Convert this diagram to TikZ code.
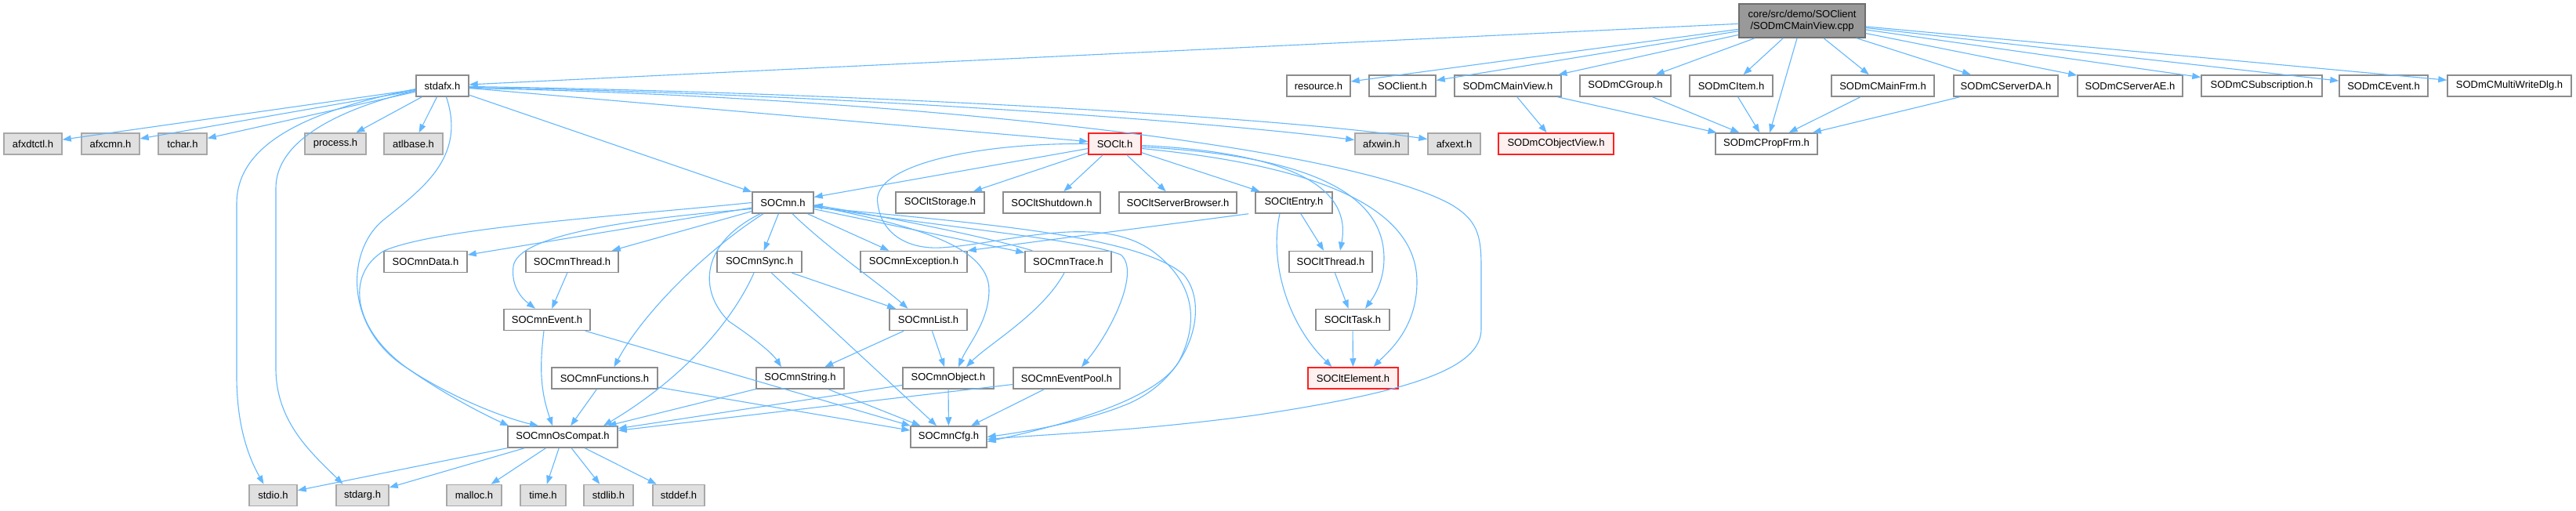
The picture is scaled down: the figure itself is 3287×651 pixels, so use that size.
\documentclass[tikz,border=0pt]{standalone}
\usepackage{fontspec}
\setmainfont{Liberation Sans}
\usetikzlibrary{arrows.meta}
\definecolor{edgeblue}{HTML}{63B8FF}
\definecolor{bgray}{HTML}{8C8C8C}
\definecolor{extfill}{HTML}{E0E0E0}
\definecolor{extborder}{HTML}{A8A8A8}
\definecolor{mainfill}{HTML}{999999}
\definecolor{mainborder}{HTML}{6E6E6E}
\definecolor{redfill}{HTML}{FFF0F0}
\definecolor{redborder}{HTML}{FF2020}
\begin{document}
\begin{tikzpicture}[x=1pt,y=-1pt,
  box/.style={draw=bgray, line width=1.5pt, fill=white, minimum height=27, inner sep=0pt,
    font=\fontsize{13}{15}\selectfont},
  ext/.style={box, draw=extborder, fill=extfill},
  red/.style={box, draw=redborder, fill=redfill},
  edge/.style={draw=edgeblue, line width=1.1pt, -{Triangle[length=11pt,width=8pt]}}]
\useasboundingbox (0,0) rectangle (3287,651);
\fill[white] (0,0) rectangle (3287,651);
% ---- nodes
\node[box, draw=mainborder, fill=mainfill, minimum width=161, minimum height=43, align=center] (main) at (2299.5,26.5) {core/src/demo/SOClient\\/SODmCMainView.cpp};
% row 1
\node[box, minimum width=67] (stdafx) at (564.5,109.5) {stdafx.h};
\node[box, minimum width=81] (resource) at (1682.5,109.5) {resource.h};
\node[box, minimum width=85] (soclient) at (1789.5,109.5) {SOClient.h};
\node[box, minimum width=136] (mainview) at (1924,109.5) {SODmCMainView.h};
\node[box, minimum width=116] (group) at (2074,109.5) {SODmCGroup.h};
\node[box, minimum width=106] (item) at (2209,109.5) {SODmCItem.h};
\node[box, minimum width=131] (mainfrm) at (2402.5,109.5) {SODmCMainFrm.h};
\node[box, minimum width=133] (serverda) at (2559.5,109.5) {SODmCServerDA.h};
\node[box, minimum width=134] (serverae) at (2718,109.5) {SODmCServerAE.h};
\node[box, minimum width=154] (subscr) at (2886,109.5) {SODmCSubscription.h};
\node[box, minimum width=113] (dmevent) at (3041.5,109.5) {SODmCEvent.h};
\node[box, minimum width=158] (multi) at (3202,109.5) {SODmCMultiWriteDlg.h};
% row 2
\node[ext, minimum width=74] (afxdtctl) at (42,183.5) {afxdtctl.h};
\node[ext, minimum width=74] (afxcmn) at (141,183.5) {afxcmn.h};
\node[ext, minimum width=62] (tchar) at (233,183.5) {tchar.h};
\node[ext, minimum width=78] (process) at (428,183.5) {process.h};
\node[ext, minimum width=75] (atlbase) at (527.5,183.5) {atlbase.h};
\node[red, minimum width=67] (soclt) at (1422.5,183.5) {SOClt.h};
\node[ext, minimum width=68] (afxwin) at (1763,183.5) {afxwin.h};
\node[ext, minimum width=67] (afxext) at (1855.5,183.5) {afxext.h};
\node[red, minimum width=147] (objview) at (1985.5,183.5) {SODmCObjectView.h};
\node[box, minimum width=130] (propfrm) at (2254,183.5) {SODmCPropFrm.h};
% row 3
\node[box, minimum width=78] (socmn) at (999,258.5) {SOCmn.h};
\node[box, minimum width=113] (storage) at (1199.5,258.5) {SOCltStorage.h};
\node[box, minimum width=124] (shutdown) at (1342,258.5) {SOCltShutdown.h};
\node[box, minimum width=150] (browser) at (1503,258.5) {SOCltServerBrowser.h};
\node[box, minimum width=98] (entry) at (1651,258.5) {SOCltEntry.h};
% row 4
\node[box, minimum width=106] (data) at (543,334) {SOCmnData.h};
\node[box, minimum width=118] (thread) at (730,334) {SOCmnThread.h};
\node[box, minimum width=108] (sync) at (969,334) {SOCmnSync.h};
\node[box, minimum width=136] (exception) at (1166,334) {SOCmnException.h};
\node[box, minimum width=110] (trace) at (1363,334) {SOCmnTrace.h};
\node[box, minimum width=106] (cltthread) at (1698,334) {SOCltThread.h};
% row 5
\node[box, minimum width=110] (event) at (698,408) {SOCmnEvent.h};
\node[box, minimum width=99] (list) at (1184.5,408) {SOCmnList.h};
\node[box, minimum width=94] (task) at (1726,408) {SOCltTask.h};
% row 6
\node[box, minimum width=135] (functions) at (771.5,482.5) {SOCmnFunctions.h};
\node[box, minimum width=112] (string) at (1021,482.5) {SOCmnString.h};
\node[box, minimum width=116] (object) at (1210,482.5) {SOCmnObject.h};
\node[box, minimum width=136] (eventpool) at (1361,482.5) {SOCmnEventPool.h};
\node[red, minimum width=115] (element) at (1726.5,482.5) {SOCltElement.h};
% row 7
\node[box, minimum width=140] (oscompat) at (718,557.5) {SOCmnOsCompat.h};
\node[box, minimum width=97] (cfg) at (1210.5,557.5) {SOCmnCfg.h};
% row 8
\node[ext, minimum width=61] (stdio) at (348.5,632) {stdio.h};
\node[ext, minimum width=67] (stdarg) at (462.5,632) {stdarg.h};
\node[ext, minimum width=70] (malloc) at (605,632) {malloc.h};
\node[ext, minimum width=58] (time) at (693,632) {time.h};
\node[ext, minimum width=63] (stdlib) at (776.5,632) {stdlib.h};
\node[ext, minimum width=66] (stddef) at (866,632) {stddef.h};
% ---- edges from main file
\foreach \t in {stdafx,resource,soclient,mainview,group,item,propfrm,mainfrm,serverda,serverae,subscr,dmevent,multi}
  \draw[edge] (main) -- (\t);
\foreach \t in {mainview,group,item,mainfrm,serverda}
  \draw[edge] (\t) -- (propfrm);
\draw[edge] (mainview) -- (objview);
% ---- stdafx
\foreach \t in {afxdtctl,afxcmn,tchar,process,atlbase,socmn,soclt}
  \draw[edge] (stdafx) -- (\t);
\draw[edge] ([yshift=-2]stdafx.east) .. controls (1000,118) and (1500,150) .. ([yshift=5]afxwin.west);
\draw[edge] ([yshift=-1]stdafx.east) .. controls (1000,116) and (1600,145) .. ([yshift=6]afxext.west);
\draw[edge] ([yshift=-4]stdafx.west) .. controls (400,140) and (302,180) .. (302,260) -- (302,480) .. controls (302,545) and (318,585) .. ([xshift=-12]stdio.north);
\draw[edge] ([yshift=-6]stdafx.west) .. controls (430,140) and (352,180) .. (352,240) -- (352,470) .. controls (352,540) and (400,580) .. ([xshift=-25]stdarg.north);
\draw[edge] ([xshift=5]stdafx.south) .. controls (595,200) and (540,240) .. (490,280) .. controls (440,320) and (440,420) .. (520,470) .. controls (570,505) and (620,530) .. ([xshift=2]oscompat.north west);
\draw[edge] ([yshift=-3]stdafx.east) .. controls (1100,122) and (1700,180) .. (1850,260) .. controls (1885,280) and (1890,300) .. (1890,340) -- (1890,420) .. controls (1890,470) and (1800,500) .. (1600,530) .. controls (1450,550) and (1350,553) .. ([yshift=-3]cfg.east);
% ---- SOClt
\foreach \t in {socmn,storage,shutdown,browser,entry}
  \draw[edge] (soclt) -- (\t);
\draw[edge] ([yshift=-2]soclt.east) .. controls (1650,195) and (1725,240) .. ([xshift=12]cltthread.north);
\draw[edge] ([yshift=-4]soclt.east) .. controls (1700,200) and (1766,260) .. (1766,330) .. controls (1766,360) and (1752,380) .. ([xshift=16]task.north);
\draw[edge] ([yshift=-6]soclt.east) .. controls (1720,215) and (1808,280) .. (1808,360) .. controls (1808,420) and (1770,450) .. ([xshift=26]element.north);
\draw[edge] (soclt.west) .. controls (1250,182) and (1110,210) .. (1120,260) .. controls (1125,300) and (1160,318) .. (1200,316) .. controls (1280,312) and (1400,270) .. (1470,320) .. controls (1525,360) and (1530,410) .. (1505,460) .. controls (1475,515) and (1330,548) .. ([yshift=-6]cfg.east);
% ---- SOCltEntry etc
\draw[edge] (entry) -- (cltthread);
\draw[edge] ([xshift=-18]entry.south) .. controls (1620,330) and (1640,410) .. ([xshift=-27]element.north);
\draw[edge] ([xshift=-8]entry.south west) -- (exception.north east);
\draw[edge] (cltthread) -- (task);
\draw[edge] (task) -- (element);
% ---- SOCmn
\foreach \t in {data,thread,sync,exception,trace}
  \draw[edge] (socmn) -- (\t);
\draw[edge] ([xshift=10]trace.north west) .. controls (1250,300) and (1120,275) .. ([yshift=-3]socmn.east);
\draw[edge] (socmn.west) .. controls (800,275) and (560,290) .. (490,320) .. controls (440,350) and (450,420) .. (520,470) .. controls (580,510) and (650,535) .. ([xshift=-31]oscompat.north);
\draw[edge] ([yshift=-8]socmn.west) .. controls (800,280) and (660,300) .. (655,340) .. controls (652,365) and (665,380) .. ([xshift=-15]event.north);
\draw[edge] ([xshift=-25]socmn.south) .. controls (900,320) and (820,400) .. ([xshift=12]functions.north);
\draw[edge] ([xshift=-29]socmn.south) .. controls (895,310) and (890,370) .. (930,410) .. controls (960,430) and (985,450) .. ([xshift=-24]string.north);
\draw[edge] ([xshift=12]socmn.south) .. controls (1060,320) and (1120,360) .. ([xshift=-26]list.north);
\draw[edge] ([yshift=-4]socmn.east) .. controls (1150,285) and (1262,310) .. (1262,370) .. controls (1262,410) and (1235,440) .. ([xshift=13]object.north);
\draw[edge] ([yshift=-5]socmn.east) .. controls (1200,290) and (1380,305) .. (1430,325) .. controls (1455,345) and (1420,420) .. ([xshift=19]eventpool.north);
\draw[edge] ([yshift=-6]socmn.east) .. controls (1250,285) and (1450,300) .. (1510,350) .. controls (1545,390) and (1520,480) .. (1440,515) .. controls (1380,540) and (1300,552) .. ([yshift=0]cfg.east);
% ---- lower SOCmn files
\draw[edge] (thread) -- (event);
\draw[edge] ([xshift=-7]sync.south) .. controls (930,420) and (860,490) .. ([xshift=52]oscompat.north);
\draw[edge] (sync) -- (cfg);
\draw[edge] (sync) -- (list);
\draw[edge] ([xshift=-4]event.south) .. controls (688,470) and (690,500) .. ([xshift=-13]oscompat.north);
\draw[edge] (event) -- (cfg);
\draw[edge] (functions) -- (oscompat);
\draw[edge] (functions) -- (cfg);
\draw[edge] (string) -- (oscompat);
\draw[edge] (string) -- (cfg);
\draw[edge] (list) -- (string);
\draw[edge] (list) -- (object);
\draw[edge] (object) -- (oscompat);
\draw[edge] (object) -- (cfg);
\draw[edge] (eventpool) -- (oscompat);
\draw[edge] (eventpool) -- (cfg);
\draw[edge] ([xshift=-5]trace.south) .. controls (1330,400) and (1260,440) .. ([xshift=23]object.north);
\foreach \t in {stdio,stdarg,malloc,time,stdlib,stddef}
  \draw[edge] (oscompat) -- (\t);
\end{tikzpicture}
\end{document}
